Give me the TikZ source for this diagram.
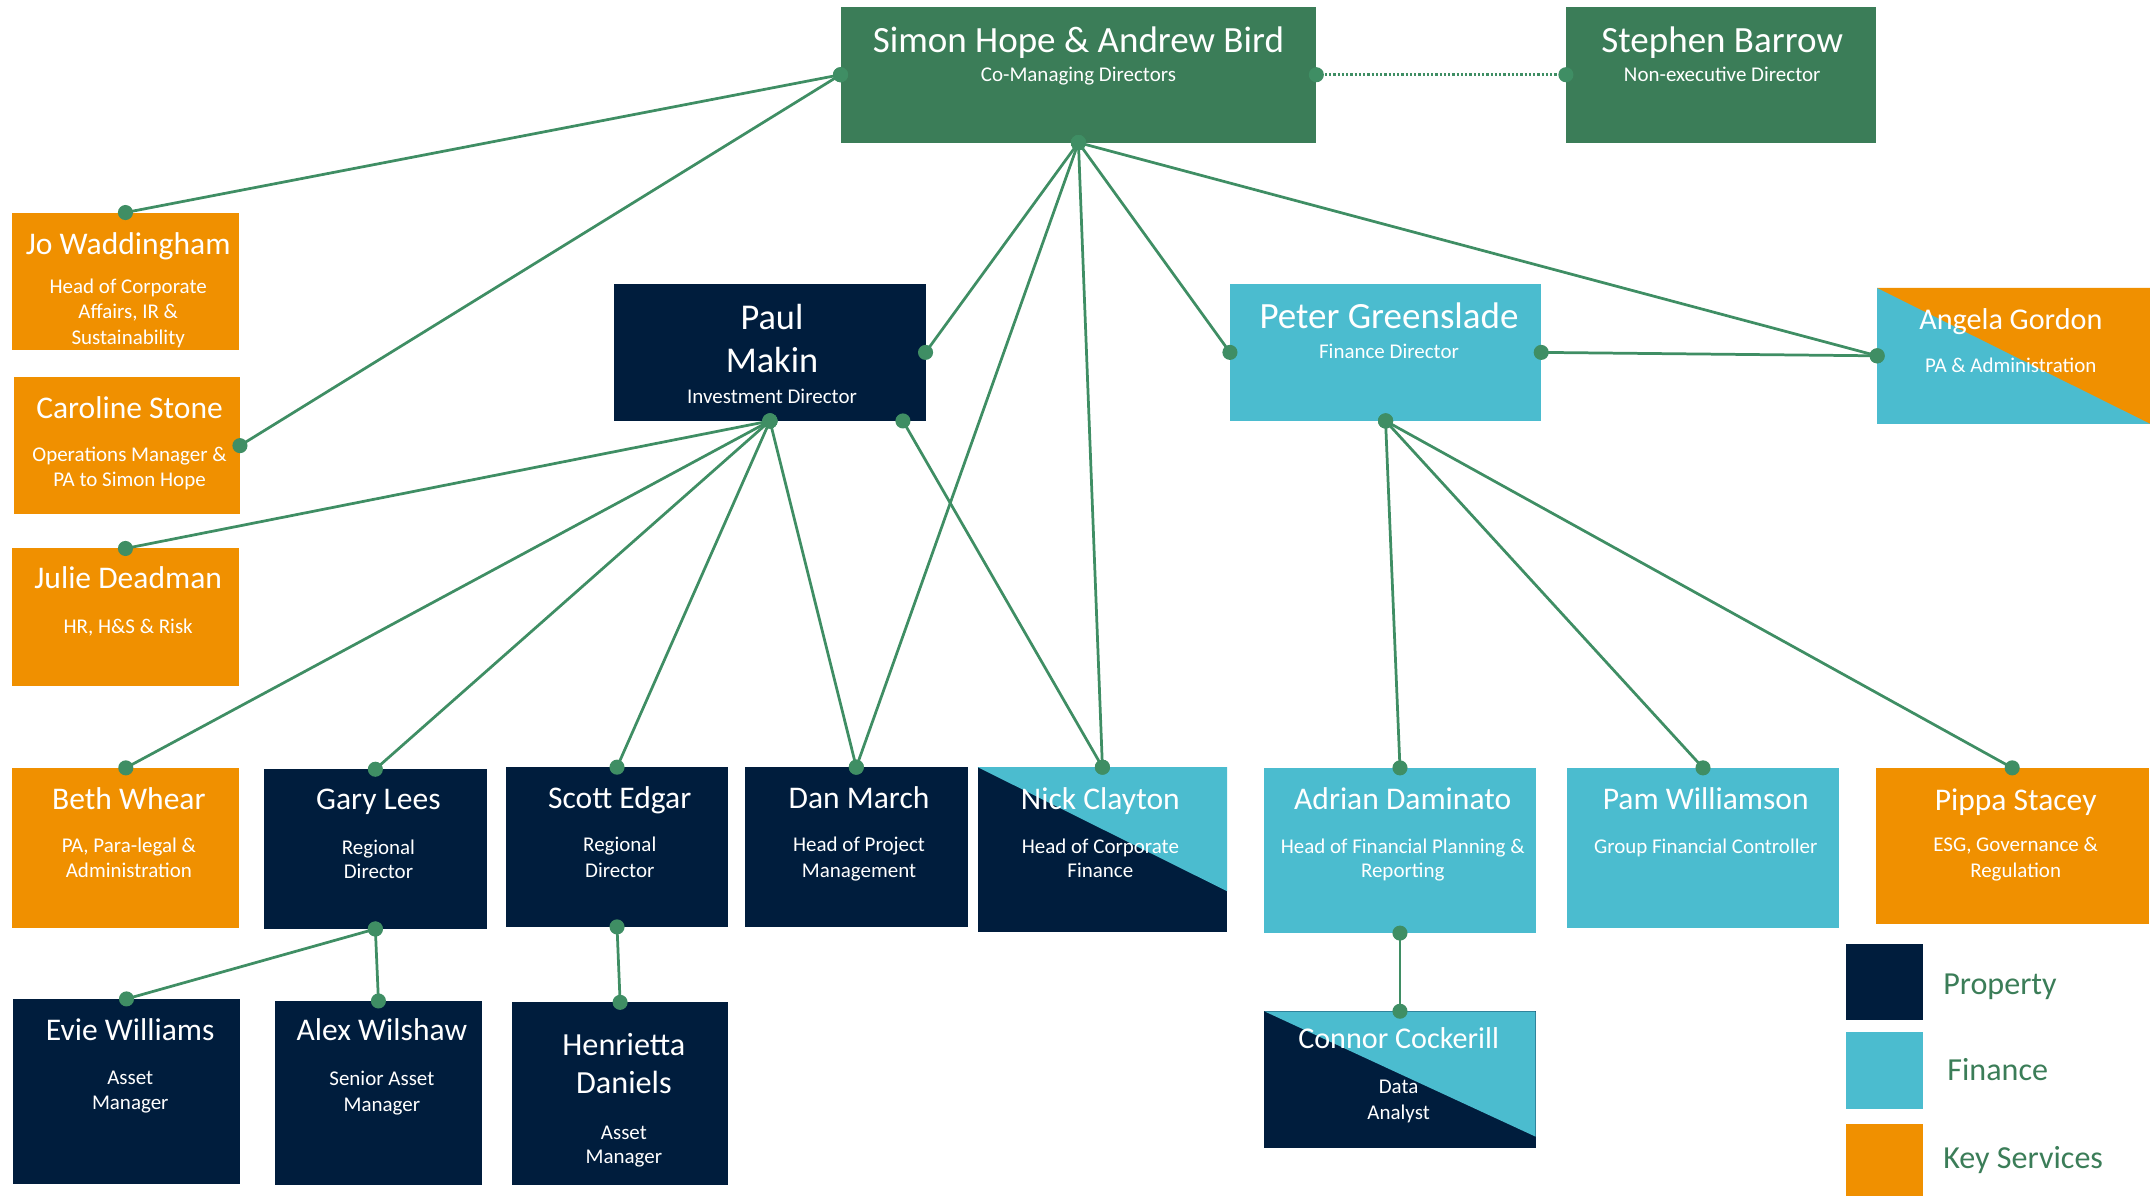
\documentclass[tikz,border=0pt]{standalone}
\usepackage{fontspec}
\setmainfont{Carlito}
\usetikzlibrary{fit}
\definecolor{hdgreen}{HTML}{3B7D58}
\definecolor{navy}{HTML}{001D3D}
\definecolor{fincyan}{HTML}{4BBCCF}
\definecolor{keyorange}{HTML}{F09000}
\definecolor{linkgreen}{HTML}{3F8E64}
\newcommand\linkto[2]{\draw[conn] (#1) -- (#2); \fill[dotc] (#1) circle (5.5pt); \fill[dotc] (#2) circle (5.5pt);}
\begin{document}
\begin{tikzpicture}[x=1pt,y=-1pt,
 box/.style={inner sep=0pt, outer sep=0pt, fill=#1},
 nm/.style={text=white, anchor=base, inner sep=0pt, font=\fontsize{23}{27}\selectfont},
 bignm/.style={text=white, anchor=base, inner sep=0pt, font=\fontsize{27}{32}\selectfont},
 sub/.style={text=white, anchor=base, inner sep=0pt, font=\fontsize{15.3}{18}\selectfont},
 conn/.style={draw=linkgreen, line width=2pt},
 dotc/.style={fill=linkgreen},
 legtxt/.style={text=hdgreen, anchor=base west, inner sep=0pt, font=\fontsize{23.4}{28}\selectfont}]

\useasboundingbox (0,0) rectangle (1568,872);

% ---------- boxes ----------
\node[box=hdgreen, fit={(613,5) (960,104)}] (simon) {};
\node[box=hdgreen, fit={(1142,5) (1368,104)}] (stephen) {};
\node[box=keyorange, fit={(9,155) (174,255)}] (jo) {};
\node[box=keyorange, fit={(10,275) (175,375)}] (caroline) {};
\node[box=keyorange, fit={(9,400) (174,500)}] (julie) {};
\node[box=navy, fit={(448,207) (675,307)}] (paul) {};
\node[box=fincyan, fit={(897,207) (1124,307)}] (peter) {};
\node[box=fincyan, fit={(1369,210) (1568,309)}] (angela) {};
\node[box=keyorange, fit={(9,560) (174.5,677)}] (beth) {};
\node[box=navy, fit={(192.5,561) (355,677.5)}] (gary) {};
\node[box=navy, fit={(369,559.5) (531,676)}] (scott) {};
\node[box=navy, fit={(543,559.5) (706,676)}] (dan) {};
\node[box=navy, fit={(713,559.5) (895,680)}] (nick) {};
\node[box=fincyan, fit={(922,560) (1120,680.5)}] (adrian) {};
\node[box=fincyan, fit={(1143,560) (1341,677)}] (pam) {};
\node[box=keyorange, fit={(1368,560) (1567,674)}] (pippa) {};
\node[box=navy, fit={(9.5,728.5) (175,863.5)}] (evie) {};
\node[box=navy, fit={(200.5,730) (351.5,864)}] (alex) {};
\node[box=navy, fit={(373.5,731) (531,864)}] (henrietta) {};
\node[box=navy, fit={(922,737.5) (1120,837)}] (connor) {};
\node[box=navy, fit={(1346.5,688.5) (1402.5,744)}] (legprop) {};
\node[box=fincyan, fit={(1346.5,752.5) (1402.5,809)}] (legfin) {};
\node[box=keyorange, fit={(1346.5,820) (1402.5,872)}] (legkey) {};

% split colour triangles
\fill[keyorange] (angela.north west) -- (angela.north east) -- (angela.south east) -- cycle;
\fill[fincyan] (nick.north west) -- (nick.north east) -- (895,650) -- cycle;
\fill[fincyan] (connor.north west) -- (connor.north east) -- (1120,829) -- cycle;

% ---------- connectors ----------
\draw[linkgreen, line width=1.8pt, dash pattern=on 1.6pt off 1.5pt] (simon.east) -- (stephen.west);
\fill[dotc] (simon.east) circle (5.5pt);
\fill[dotc] (stephen.west) circle (5.5pt);
\linkto{simon.west}{jo.north}
\linkto{simon.west}{caroline.east}
\linkto{simon.south}{paul.east}
\linkto{simon.south}{dan.north}
\linkto{simon.south}{nick.north}
\linkto{simon.south}{peter.west}
\linkto{simon.south}{angela.west}
\linkto{peter.east}{angela.west}
\linkto{paul.south}{julie.north}
\linkto{paul.south}{beth.north}
\linkto{paul.south}{gary.north}
\linkto{paul.south}{scott.north}
\linkto{paul.south}{dan.north}
\linkto{[xshift=97pt]paul.south}{nick.north}
\linkto{peter.south}{adrian.north}
\linkto{peter.south}{pam.north}
\linkto{peter.south}{pippa.north}
\linkto{gary.south}{evie.north}
\linkto{gary.south}{alex.north}
\linkto{scott.south}{henrietta.north}
\linkto{adrian.south}{connor.north}

% ---------- texts ----------
\node[bignm] (simon-n) at (786.5,38.5) {Simon Hope \& Andrew Bird};
\node[sub] (simon-s) at (786.5,59.5) {Co-Managing Directors};
\node[bignm] (stephen-n) at (1256,38.5) {Stephen Barrow};
\node[sub] (stephen-s) at (1256,59.5) {Non-executive Director};

\node[nm] (jo-n) at (93.5,185.5) {Jo Waddingham};
\node[sub] (jo-s1) at (93.5,213.8) {Head of Corporate};
\node[sub] (jo-s2) at (93.5,232.5) {Affairs, IR \&};
\node[sub] (jo-s3) at (93.5,251) {Sustainability};

\node[nm] (caroline-n) at (94.5,305) {Caroline Stone};
\node[sub] (caroline-s1) at (94.5,336.7) {Operations Manager \&};
\node[sub] (caroline-s2) at (94.5,355) {PA to Simon Hope};

\node[nm] (julie-n) at (93.5,429) {Julie Deadman};
\node[sub] (julie-s) at (93.5,461.8) {HR, H\&S \& Risk};

\node[bignm, font=\fontsize{26.5}{31}\selectfont] (paul-n1) at (563,240) {Paul};
\node[bignm, font=\fontsize{26.5}{31}\selectfont] (paul-n2) at (563,272) {Makin};
\node[sub] (paul-s) at (563,294.5) {Investment Director};

\node[bignm] (peter-n) at (1013,239.8) {Peter Greenslade};
\node[sub] (peter-s) at (1013,261.5) {Finance Director};

\node[nm, font=\fontsize{22}{26}\selectfont] (angela-n) at (1466.5,240) {Angela Gordon};
\node[sub] (angela-s) at (1466.5,271.5) {PA \& Administration};

\node[nm] (beth-n) at (94,590) {Beth Whear};
\node[sub] (beth-s1) at (94,621.5) {PA, Para-legal \&};
\node[sub] (beth-s2) at (94,640.3) {Administration};

\node[nm] (gary-n) at (276,590.5) {Gary Lees};
\node[sub] (gary-s1) at (276,623) {Regional};
\node[sub] (gary-s2) at (276,640.8) {Director};

\node[nm] (scott-n) at (452,589.5) {Scott Edgar};
\node[sub] (scott-s1) at (452,621.3) {Regional};
\node[sub] (scott-s2) at (452,640.3) {Director};

\node[nm] (dan-n) at (626.5,589.5) {Dan March};
\node[sub] (dan-s1) at (626.5,621.3) {Head of Project};
\node[sub] (dan-s2) at (626.5,640.3) {Management};

\node[nm] (nick-n) at (802.5,590) {Nick Clayton};
\node[sub] (nick-s1) at (802.5,622.3) {Head of Corporate};
\node[sub] (nick-s2) at (802.5,640.3) {Finance};

\node[nm] (adrian-n) at (1023,590) {Adrian Daminato};
\node[sub] (adrian-s1) at (1023,622.3) {Head of Financial Planning \&};
\node[sub] (adrian-s2) at (1023,640.3) {Reporting};

\node[nm] (pam-n) at (1244,590) {Pam Williamson};
\node[sub] (pam-s) at (1244,622.3) {Group Financial Controller};

\node[nm] (pippa-n) at (1470,591.3) {Pippa Stacey};
\node[sub] (pippa-s1) at (1470,621.3) {ESG, Governance \&};
\node[sub] (pippa-s2) at (1470,640.3) {Regulation};

\node[nm] (evie-n) at (95,758.5) {Evie Williams};
\node[sub] (evie-s1) at (95,791) {Asset};
\node[sub] (evie-s2) at (95,809.3) {Manager};

\node[nm] (alex-n) at (278.5,759) {Alex Wilshaw};
\node[sub] (alex-s1) at (278.5,791.7) {Senior Asset};
\node[sub] (alex-s2) at (278.5,810.3) {Manager};

\node[nm, font=\fontsize{23.5}{28}\selectfont] (henrietta-n1) at (455,770) {Henrietta};
\node[nm, font=\fontsize{23.5}{28}\selectfont] (henrietta-n2) at (455,797.8) {Daniels};
\node[sub] (henrietta-s1) at (455,831.3) {Asset};
\node[sub] (henrietta-s2) at (455,848.8) {Manager};

\node[nm, font=\fontsize{22}{26}\selectfont] (connor-n) at (1020,765) {Connor Cockerill};
\node[sub] (connor-s1) at (1020,797.7) {Data};
\node[sub] (connor-s2) at (1020,816.3) {Analyst};

\node[legtxt] (legprop-t) at (1417,725.5) {Property};
\node[legtxt] (legfin-t) at (1420,788) {Finance};
\node[legtxt] (legkey-t) at (1417,852.5) {Key Services};
\end{tikzpicture}
\end{document}
